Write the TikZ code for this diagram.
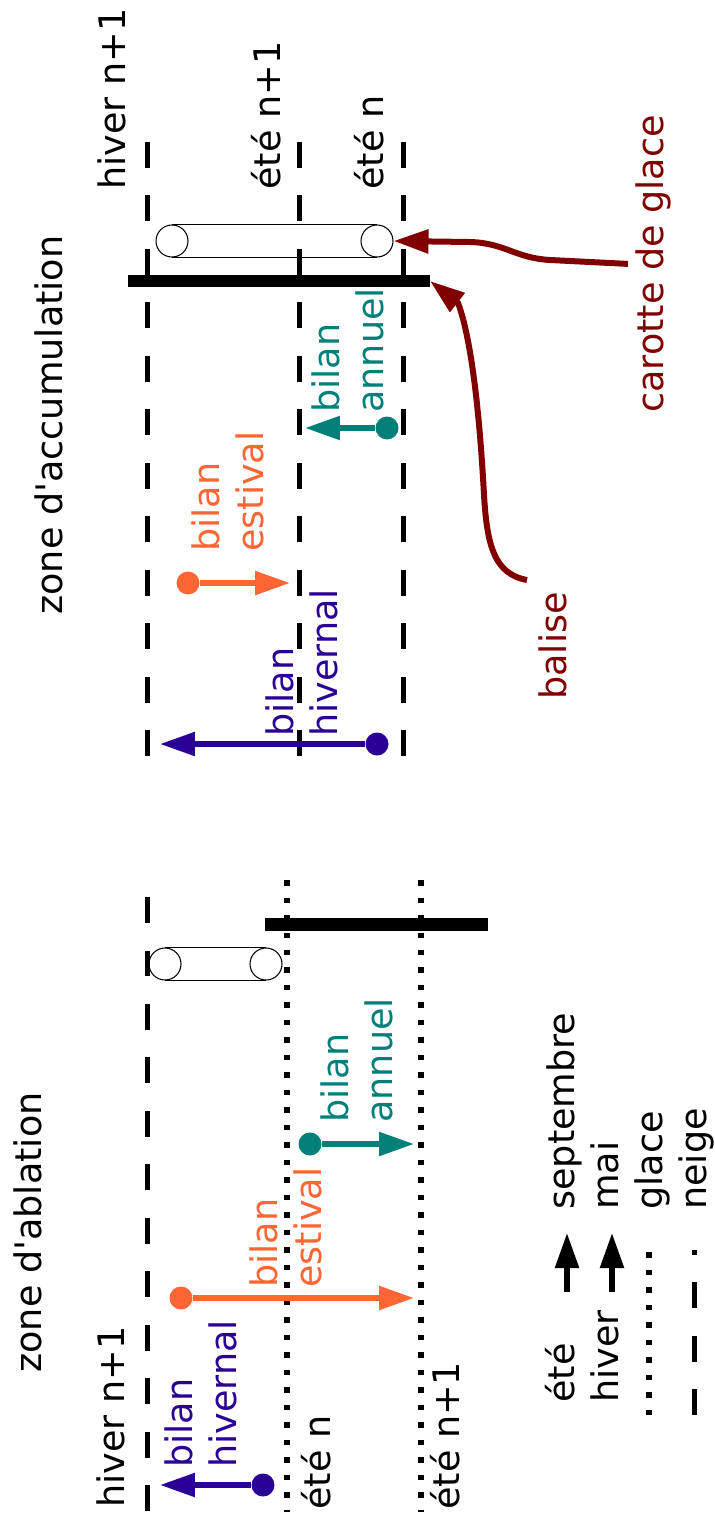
\documentclass[tikz,border=0pt]{standalone}
\usepackage{fontspec}
\setmainfont{DejaVu Sans}[Ligatures=TeXOff]
\usetikzlibrary{arrows.meta}

\definecolor{hivcol}{RGB}{42,0,150}
\definecolor{estcol}{RGB}{255,102,51}
\definecolor{anncol}{RGB}{0,128,120}
\definecolor{rouge}{RGB}{128,0,0}

\begin{document}
\begin{tikzpicture}[
    x=0.02cm, y=-0.02cm,
    lbl/.style={rotate=90, anchor=base west, inner sep=0pt, align=left,
      font=\fontsize{20.8}{25}\selectfont},
    neige/.style={line width=0.1cm, dash pattern=on 0.52cm off 0.55cm},
    glace/.style={line width=0.12cm, dash pattern=on 0.11cm off 0.24cm},
    barre/.style={line width=0.26cm},
    bout/.style={circle, draw, line width=0.6pt, minimum size=0.64cm, inner sep=0pt},
    depart/.style={circle, minimum size=0.46cm, inner sep=0pt},
    bil/.style={line width=0.11cm, -{Triangle[length=0.7cm, width=0.46cm]}},
    fleche/.style={line width=0.12cm, draw=rouge, -{Triangle[length=0.7cm, width=0.46cm]}}
  ]
    \useasboundingbox (0,0) rectangle (715,1517);

    % zone d'accumulation
    \node[lbl] (zacc) at (62,615) {zone d'accumulation};
    \node[lbl] (h1) at (125,190) {hiver n+1};
    \node[lbl] (e1) at (280,190) {été n+1};
    \node[lbl] (e0) at (383,190) {été n};
    \foreach \x in {147,299,403}
      \draw[neige] (\x,142) -- (\x,757);

    \node[bout] (ca1) at (172,241) {};
    \node[bout] (ca2) at (377,241) {};
    \draw[line width=0.6pt] (ca1.north) -- (ca2.north) (ca1.south) -- (ca2.south);

    \coordinate (ba1) at (128,281);
    \coordinate (ba2) at (430,281);
    \draw[barre] (ba1) -- (ba2);

    \node[lbl, text=estcol] (est1) at (263,552) {bilan\\estival};
    \node[depart, fill=estcol] (ed1) at (188,583) {};
    \coordinate (et1) at (290,583);
    \draw[bil, estcol] (ed1) -- (et1);

    \node[lbl, text=anncol] (ann1) at (383,413) {bilan\\annuel};
    \node[depart, fill=anncol] (ad1) at (387,428) {};
    \coordinate (at1) at (305,428);
    \draw[bil, anncol] (ad1) -- (at1);

    \node[lbl, text=hivcol] (hiv1) at (337,737) {bilan\\hivernal};
    \node[depart, fill=hivcol] (hd1) at (377,744) {};
    \coordinate (ht1) at (160,744);
    \draw[bil, hivcol] (hd1) -- (ht1);

    % carotte et balise
    \node[lbl, text=rouge] (car) at (663,413) {carotte de glace};
    \draw[fleche] ([xshift=-0.14cm]car.north) -- (550,260)
      .. controls (515,258) and (505,243) .. (470,242) -- (ca2.east);
    \node[lbl, text=rouge] (bal) at (566,700) {balise};
    \coordinate (bal0) at (527,580);
    \draw[fleche] (bal0) .. controls (494,574) and (487,545) .. (484,495)
      .. controls (480,420) and (472,340) .. (458,303) -- (ba2);

    % zone d'ablation
    \node[lbl] (zabl) at (41,1373) {zone d'ablation};
    \draw[neige] (147,897) -- (147,1512);
    \foreach \x in {287,421}
      \draw[glace] (\x,880) -- (\x,1512);
    \node[lbl] (h2) at (124,1508) {hiver n+1};
    \node[lbl] (e2) at (330,1510) {été n};
    \node[lbl] (e3) at (459,1510) {été n+1};

    \node[bout] (cb1) at (165,964) {};
    \node[bout] (cb2) at (266,964) {};
    \draw[line width=0.6pt] (cb1.north) -- (cb2.north) (cb1.south) -- (cb2.south);

    \coordinate (bb1) at (265,924);
    \coordinate (bb2) at (488,924);
    \draw[barre] (bb1) -- (bb2);

    \node[lbl, text=anncol] (ann2) at (392,1123) {bilan\\annuel};
    \node[depart, fill=anncol] (ad2) at (310,1144) {};
    \coordinate (at2) at (414,1144);
    \draw[bil, anncol] (ad2) -- (at2);

    \node[lbl, text=estcol] (est2) at (321,1288) {bilan\\estival};
    \node[depart, fill=estcol] (ed2) at (181,1298) {};
    \coordinate (et2) at (414,1298);
    \draw[bil, estcol] (ed2) -- (et2);

    \node[lbl, text=hivcol] (hiv2) at (236,1468) {bilan\\hivernal};
    \node[depart, fill=hivcol] (hd2) at (263,1485) {};
    \coordinate (ht2) at (160,1485);
    \draw[bil, hivcol] (hd2) -- (ht2);

    % legende
    \node[lbl] (lg1) at (574,1403) {été};
    \node[lbl] (lg2) at (618,1403) {hiver};
    \coordinate (la1) at (567,1292);
    \coordinate (lb1) at (567,1233);
    \coordinate (la2) at (612,1292);
    \coordinate (lb2) at (612,1233);
    \draw[bil] (la1) -- (lb1);
    \draw[bil] (la2) -- (lb2);
    \draw[glace] (649,1415) -- (649,1250);
    \draw[neige] (694,1415) -- (694,1250);
    \node[lbl] (lg3) at (574,1210) {septembre};
    \node[lbl] (lg4) at (618,1210) {mai};
    \node[lbl] (lg5) at (662,1210) {glace};
    \node[lbl] (lg6) at (706,1210) {neige};
  \end{tikzpicture}
\end{document}
